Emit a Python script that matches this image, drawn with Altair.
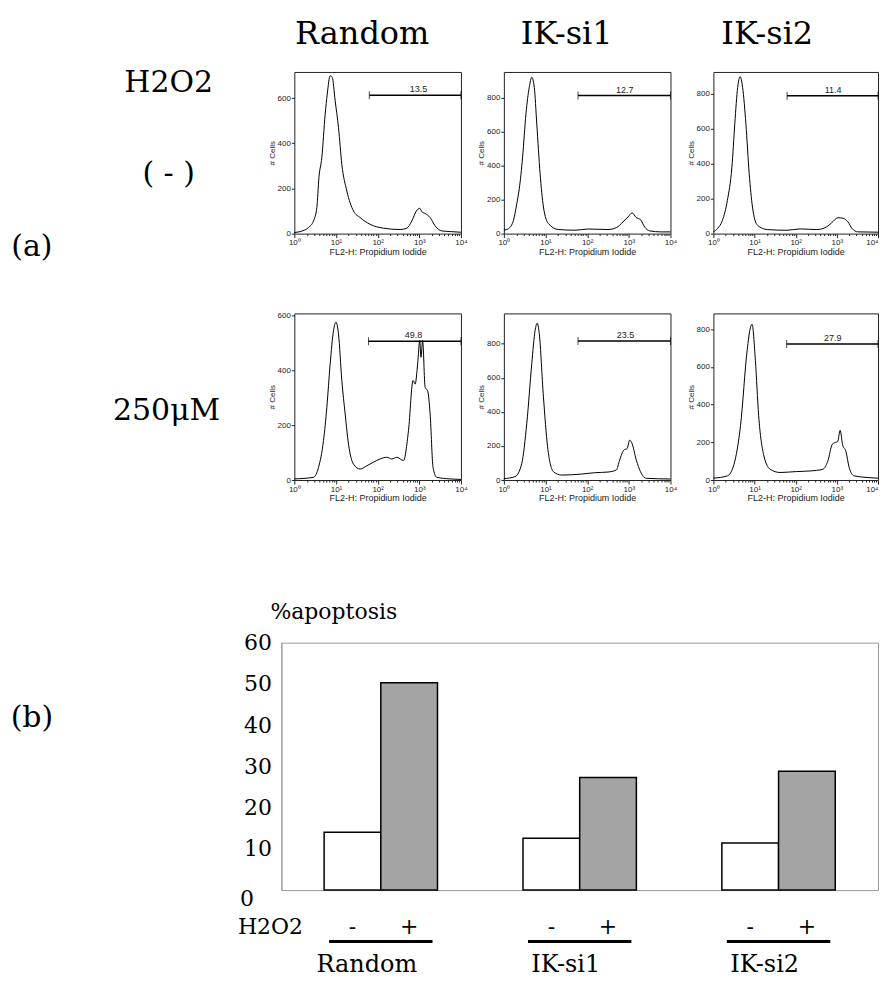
import math
import altair as alt
import pandas as pd

SERIF = "DejaVu Serif"
SANS = "Liberation Sans"

# ---------------- data ----------------
col_names = ["Random", "IK-si1", "IK-si2"]
treatments = ["-", "+"]

# flow-cytometry histograms: x = log10(FL2-H), y = # cells
r1_random_x = [0, 0.14, 0.34, 0.46, 0.54, 0.59, 0.66, 0.74, 0.79, 0.86, 0.91, 0.98, 1.06, 1.14, 1.26, 1.42, 1.58, 1.82, 2.14, 2.54, 2.70, 2.82, 2.93, 3.01, 3.06, 3.14, 3.26, 3.38, 3.54, 3.74, 4.0]
r1_random_y = [5, 9, 27, 56, 115, 248, 337, 529, 618, 699, 692, 588, 470, 307, 189, 100, 71, 41, 24, 18, 24, 56, 100, 112, 97, 89, 71, 34, 12, 9, 6]

r1_si1_x = [0, 0.11, 0.23, 0.31, 0.37, 0.45, 0.53, 0.61, 0.67, 0.73, 0.79, 0.87, 0.95, 1.07, 1.31, 1.71, 2.02, 2.50, 2.70, 2.86, 2.98, 3.08, 3.18, 3.28, 3.38, 3.50, 3.78, 4.0]
r1_si1_y = [20, 29, 78, 176, 265, 451, 706, 863, 922, 863, 647, 353, 157, 59, 24, 20, 27, 24, 35, 69, 98, 122, 94, 82, 39, 16, 10, 10]

r1_si2_x = [0, 0.10, 0.22, 0.34, 0.45, 0.52, 0.59, 0.65, 0.71, 0.79, 0.87, 0.95, 1.07, 1.31, 1.79, 2.11, 2.51, 2.75, 2.87, 3.03, 3.15, 3.27, 3.37, 3.51, 4.0]
r1_si2_y = [10, 29, 76, 190, 381, 629, 838, 899, 838, 629, 343, 152, 48, 23, 19, 27, 23, 38, 61, 91, 88, 67, 29, 10, 8]

r2_random_x = [0, 0.46, 0.58, 0.70, 0.78, 0.86, 0.94, 1.00, 1.06, 1.14, 1.22, 1.30, 1.42, 1.58, 1.74, 1.90, 2.06, 2.22, 2.34, 2.46, 2.62, 2.74, 2.85, 2.90, 2.96, 3.01, 3.04, 3.08, 3.14, 3.20, 3.26, 3.33, 3.42, 3.74, 4.0]
r2_random_y = [4, 10, 46, 144, 265, 424, 545, 576, 533, 363, 241, 131, 58, 40, 52, 65, 77, 83, 77, 83, 71, 180, 363, 350, 424, 509, 448, 509, 338, 326, 241, 46, 10, 4, 2]

r2_si1_x = [0, 0.27, 0.43, 0.55, 0.67, 0.75, 0.80, 0.85, 0.95, 1.05, 1.19, 1.39, 1.86, 2.18, 2.50, 2.70, 2.78, 2.88, 2.96, 3.02, 3.07, 3.18, 3.28, 3.42, 4.0]
r2_si1_y = [8, 20, 98, 332, 683, 878, 921, 859, 488, 195, 49, 29, 35, 43, 47, 59, 117, 176, 185, 234, 219, 117, 49, 10, 6]

r2_si2_x = [0, 0.34, 0.50, 0.66, 0.82, 0.90, 0.94, 1.02, 1.10, 1.22, 1.38, 1.62, 2.02, 2.34, 2.66, 2.78, 2.89, 2.97, 3.02, 3.08, 3.14, 3.22, 3.30, 3.42, 4.0]
r2_si2_y = [10, 22, 83, 290, 688, 809, 826, 636, 342, 135, 57, 40, 45, 48, 57, 100, 190, 200, 204, 264, 187, 152, 66, 22, 10]

# gate: (low log10 bound, height in cells, label, label position)
gate_r1 = [(1.80, 613, "13.5", 2.98), (1.78, 814, "12.7", 2.90), (1.79, 790, "11.4", 2.91)]
gate_r2 = [(1.78, 506, "49.8", 2.86), (1.78, 816, "23.5", 2.92), (1.78, 722, "27.9", 2.90)]

ymax_r1 = [716, 953, 926]
ymax_r2 = [608, 978, 884]
yticks_r1 = [[0, 200, 400, 600], [0, 200, 400, 600, 800], [0, 200, 400, 600, 800]]
yticks_r2 = [[0, 200, 400, 600], [0, 200, 400, 600, 800], [0, 200, 400, 600, 800]]

# % apoptosis bar chart
apop_minus = [14.0, 12.6, 11.4]
apop_plus = [50.3, 27.3, 28.8]

# ---------------- helpers ----------------
NOSTROKE = alt.ViewBackground(stroke="transparent")


def text_layer(txt, x, y, size, align="center", baseline="middle", font=SERIF):
    return alt.Chart(pd.DataFrame({"t": [txt]})).mark_text(
        font=font, fontSize=size, align=align, baseline=baseline, color="black"
    ).encode(text="t:N", x=alt.value(x), y=alt.value(y))


log_ticks = [k + math.log10(m) for k in range(4) for m in range(1, 10)] + [4]


def xaxis(last_right):
    extra = {}
    if last_right:
        extra["labelAlign"] = {"condition": {"test": "datum.value === 4", "value": "right"}, "value": "center"}
    return alt.Axis(
        values=log_ticks,
        labelExpr="datum.value % 1 === 0 ? '10' + ['\u2070','\u00b9','\u00b2','\u00b3','\u2074'][datum.value] : ''",
        title="FL2-H: Propidium Iodide", titleFont=SANS, titleFontSize=9, titleFontWeight="normal",
        titlePadding=1, titleColor="#222",
        labelFont=SANS, labelFontSize=8, labelPadding=1, labelColor="#222",
        labelOverlap=False, labelFlush=False,
        tickSize={"condition": {"test": "datum.value % 1 === 0", "value": 4}, "value": 2},
        tickColor="#222", domain=False, grid=False, **extra,
    )


def yaxis(vals):
    return alt.Axis(
        values=vals, title="# Cells", titleFont=SANS, titleFontSize=8, titleFontWeight="normal",
        titlePadding=1, titleColor="#222",
        labelFont=SANS, labelFontSize=8, labelPadding=1, labelColor="#222",
        labelOverlap=False, labelFlush=False, tickSize=3, tickColor="#222",
        domain=False, grid=False,
    )


def hist(xs, ys, ymax, yvals, gate, w, h, last_right=False):
    lo, gy, lab, lx = gate
    xsc = alt.Scale(domain=[0, 4], nice=False, zero=False)
    ysc = alt.Scale(domain=[0, ymax], nice=False, zero=True)
    xa = xaxis(last_right)
    ya = yaxis(yvals)

    def X(f):
        return alt.X(f, scale=xsc, axis=xa)

    def Y(f):
        return alt.Y(f, scale=ysc, axis=ya)

    curve = pd.DataFrame({"lx": xs, "n": ys})
    g = pd.DataFrame({"a": [lo], "b": [4.0], "y": [gy], "t": [lab], "tx": [lx]})
    ends = pd.DataFrame({"e": [lo, 4.0], "y": [gy, gy]})
    line = alt.Chart(curve).mark_line(color="black", strokeWidth=1, interpolate="monotone").encode(
        x=X("lx:Q"), y=Y("n:Q"))
    rule = alt.Chart(g).mark_rule(color="black", strokeWidth=1.5).encode(
        x=X("a:Q"), x2="b:Q", y=Y("y:Q"))
    tick = alt.Chart(ends).mark_tick(orient="vertical", size=8, thickness=1, color="black").encode(
        x=X("e:Q"), y=Y("y:Q"))
    txt = alt.Chart(g).mark_text(font=SANS, fontSize=9, dy=-6, color="#222").encode(
        x=X("tx:Q"), y=Y("y:Q"), text="t:N")
    return alt.layer(line, rule, tick, txt).properties(
        width=w, height=h, view=alt.ViewBackground(stroke="#222", strokeWidth=1))


# ---------------- header ----------------
header = alt.layer(
    text_layer(col_names[0], 354, 34, 32, baseline="alphabetic"),
    text_layer(col_names[1], 559, 34, 32, baseline="alphabetic"),
    text_layer(col_names[2], 760, 34, 32, baseline="alphabetic"),
).properties(width=866, height=56, view=NOSTROKE)

# ---------------- row 1 ----------------
lab1 = alt.layer(
    text_layer("H2O2", 160, 20, 30, baseline="alphabetic"),
    text_layer("( - )", 160, 102, 30),
    text_layer("(a)", 23, 175, 30),
).properties(width=243, height=238, view=NOSTROKE)

r1_data = [(r1_random_x, r1_random_y), (r1_si1_x, r1_si1_y), (r1_si2_x, r1_si2_y)]
r1_w = [167, 167, 165]
row1 = alt.hconcat(
    lab1,
    *[hist(r1_data[i][0], r1_data[i][1], ymax_r1[i], yticks_r1[i], gate_r1[i], r1_w[i], 162, i == 2)
      for i in range(3)],
    spacing=43, bounds="flush",
)

# ---------------- row 2 ----------------
lab2 = alt.layer(
    text_layer("250\u03bcM", 158, 98, 30),
).properties(width=243, height=286, view=NOSTROKE)

r2_data = [(r2_random_x, r2_random_y), (r2_si1_x, r2_si1_y), (r2_si2_x, r2_si2_y)]
row2 = alt.hconcat(
    lab2,
    *[hist(r2_data[i][0], r2_data[i][1], ymax_r2[i], yticks_r2[i], gate_r2[i], r1_w[i], 167, i == 2)
      for i in range(3)],
    spacing=43, bounds="flush",
)

# ---------------- bar chart ----------------
bar_df = pd.DataFrame({
    "group": [g for g in col_names for _ in treatments],
    "treat": treatments * len(col_names),
    "pct": [v for pair in zip(apop_minus, apop_plus) for v in pair],
})
grp_df = pd.DataFrame({"group": col_names})

bx = alt.X("group:N", sort=col_names, scale=alt.Scale(paddingInner=0, paddingOuter=0),
           axis=alt.Axis(title=None, labelFont=SERIF, labelFontSize=24, labelColor="black",
                         labelPadding=63, labelOffset=-14, labelAngle=0, ticks=False, domain=False))
bxo = alt.XOffset("treat:N", sort=treatments, scale=alt.Scale(paddingInner=0, paddingOuter=0.754))
by = alt.Y("pct:Q", scale=alt.Scale(domain=[0, 60], nice=False),
           axis=alt.Axis(values=[0, 10, 20, 30, 40, 50, 60], title=None, labelFont=SERIF,
                         labelFontSize=22, labelColor="black", ticks=False,
                         labelPadding={"condition": {"test": "datum.value === 0", "value": 28}, "value": 10},
                         domainColor="#999", grid=False,
                         labelOffset={"condition": {"test": "datum.value === 0", "value": 8}, "value": 0}))

bars = alt.Chart(bar_df).mark_bar(stroke="black", strokeWidth=1.5).encode(
    x=bx, xOffset=bxo, y=by,
    fill=alt.Fill("treat:N", sort=treatments,
                  scale=alt.Scale(domain=treatments, range=["white", "#a4a4a4"]), legend=None),
)
signs = alt.Chart(bar_df).mark_text(font=SERIF, fontSize=22, color="black").encode(
    x=bx, xOffset=bxo, y=alt.value(285), text="treat:N")
underline = alt.Chart(grp_df).mark_bar(color="black", width=alt.RelativeBandSize(0.52)).encode(
    x=bx, y=alt.value(298), y2=alt.value(301))

bar_chart = alt.layer(
    bars, signs, underline,
    text_layer("H2O2", -11, 285, 22),
    text_layer("%apoptosis", -11, -31, 22, align="left"),
).properties(width=598, height=248, view=alt.ViewBackground(stroke="#999", strokeWidth=1))

labB = alt.layer(text_layer("(b)", 23, 76, 30)).properties(width=242, height=248, view=NOSTROKE)
row3 = alt.hconcat(labB, bar_chart, spacing=31, bounds="flush")

chart = alt.vconcat(header, row1, row2, row3, spacing=0).properties(padding=0, background="white")

chart.save("out.html", embed_options={"renderer": "svg", "actions": False})
